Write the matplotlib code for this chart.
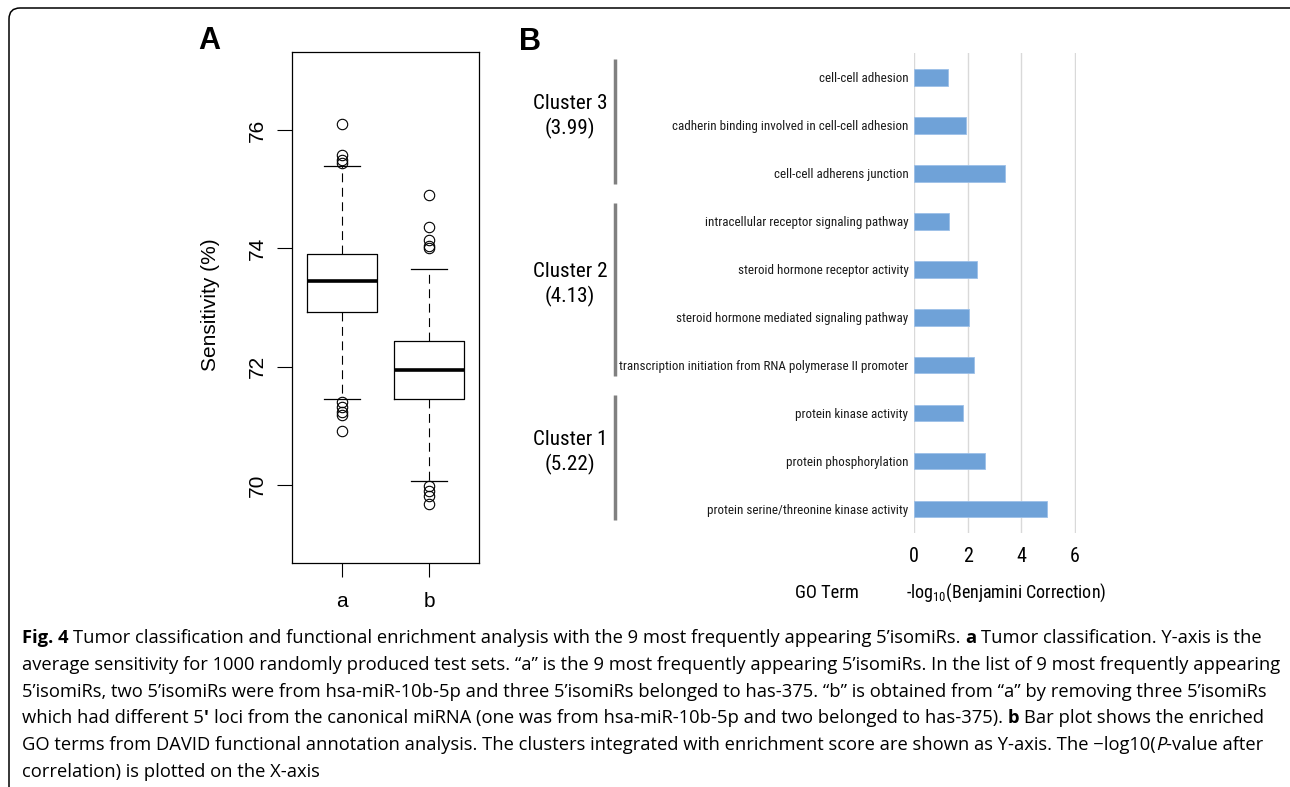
import numpy as np
import matplotlib
matplotlib.use("Agg")
import matplotlib.pyplot as plt
import matplotlib.transforms as mtransforms
from matplotlib import font_manager
from matplotlib.font_manager import FontProperties
from matplotlib.patches import FancyBboxPatch

# data #

groups = ["a", "b"]
q1 = [72.93, 71.45]
med = [73.44, 71.95]
q3 = [73.90, 72.43]
whislo = [71.45, 70.06]
whishi = [75.39, 73.65]
fliers = [
    [76.10, 75.58, 75.50, 75.45, 71.41, 71.32, 71.24, 71.18, 70.92],
    [74.90, 74.36, 74.14, 74.04, 74.00, 69.98, 69.89, 69.82, 69.67],
]

terms = [
    "cell-cell adhesion",
    "cadherin binding involved in cell-cell adhesion",
    "cell-cell adherens junction",
    "intracellular receptor signaling pathway",
    "steroid hormone receptor activity",
    "steroid hormone mediated signaling pathway",
    "transcription initiation from RNA polymerase II promoter",
    "protein kinase activity",
    "protein phosphorylation",
    "protein serine/threonine kinase activity",
]
neg_log_p = [1.25, 1.94, 3.39, 1.28, 2.33, 2.06, 2.22, 1.81, 2.64, 4.96]

cluster_names = ["Cluster 3", "Cluster 2", "Cluster 1"]
cluster_scores = ["3.99", "4.13", "5.22"]
cluster_spans = [(0, 2), (3, 6), (7, 9)]

caption = [
    [("Fig. 4", "bold"), ("Tumor classification and functional enrichment analysis with the 9 most frequently appearing 5\u2019isomiRs.", "normal"),
     ("a", "bold"), ("Tumor classification. Y-axis is the", "normal")],
    [("average sensitivity for 1000 randomly produced test sets. \u201ca\u201d is the 9 most frequently appearing 5\u2019isomiRs. In the list of 9 most frequently appearing", "normal")],
    [("5\u2019isomiRs, two 5\u2019isomiRs were from hsa-miR-10b-5p and three 5\u2019isomiRs belonged to has-375. \u201cb\u201d is obtained from \u201ca\u201d by removing three 5\u2019isomiRs", "normal")],
    [("which had different 5", "normal", 0), ("\u2032", "bold"), ("loci from the canonical miRNA (one was from hsa-miR-10b-5p and two belonged to has-375).", "normal"),
     ("b", "bold"), ("Bar plot shows the enriched", "normal")],
    [("GO terms from DAVID functional annotation analysis. The clusters integrated with enrichment score are shown as Y-axis. The \u2212log10(", "normal", 0),
     ("P", "italic", 0), ("-value after", "normal")],
    [("correlation) is plotted on the X-axis", "normal")],
]

# fonts #

W, H = 1290, 787
fig = plt.figure(figsize=(W / 100, H / 100), dpi=100)
px = mtransforms.IdentityTransform()
renderer = fig.canvas.get_renderer()


def measure(s, **kw):
    t = fig.text(0, 0, s, **kw)
    w = t.get_window_extent(renderer).width
    t.remove()
    return w


# pick the narrowest installed sans face for the condensed-looking panel B text
families = ("Liberation", "DejaVu Sans", "Noto Sans", "Roboto", "Open Sans", "Lato", "Inter")
best = None
for f in font_manager.fontManager.ttflist:
    if not f.name.startswith(families) or "CJK" in f.name or "Mono" in f.name:
        continue
    if f.style != "normal" or f.weight not in (400, "normal", "regular", "book"):
        continue
    try:
        w = measure("transcription initiation", fontproperties=FontProperties(fname=f.fname, size=10))
    except Exception:
        continue
    if best is None or w < best[0]:
        best = (w, f)
narrow_file = best[1] if best else None
if narrow_file is not None:
    narrow_name = narrow_file.name
    nprop = lambda size: FontProperties(fname=narrow_file.fname, size=size)
else:
    narrow_name = "Liberation Sans"
    nprop = lambda size: FontProperties(family="Liberation Sans", size=size)

names = {f.name for f in font_manager.fontManager.ttflist}
capfont = "Open Sans" if "Open Sans" in names else "DejaVu Sans"
plt.rcParams["font.family"] = ["Liberation Sans", "DejaVu Sans"]
plt.rcParams["mathtext.fontset"] = "custom"
plt.rcParams["mathtext.rm"] = narrow_name
plt.rcParams["mathtext.it"] = narrow_name + ":italic"


def fit(s, target, cap, size0=12.0):
    return min(cap, size0 * target / measure(s, fontproperties=nprop(size0)))


# outer rounded frame #

frame = FancyBboxPatch((9, -20), 1300, H - 8 + 20, boxstyle="round,pad=0,rounding_size=11",
                       transform=px, fill=False, lw=1.1, ec="black")
fig.add_artist(frame)

# Panel A: boxplot #

axA = fig.add_axes([291.7 / W, 1 - 563 / H, (479 - 291.7) / W, (563 - 52) / H])
stats = []
for i, g in enumerate(groups):
    stats.append(dict(label=g, q1=q1[i], med=med[i], q3=q3[i],
                      whislo=whislo[i], whishi=whishi[i], fliers=fliers[i]))
axA.bxp(stats, positions=[1, 2], widths=0.8, capwidths=0.41,
        boxprops=dict(lw=0.9, color="black"),
        medianprops=dict(lw=2.6, color="black", solid_capstyle="butt"),
        whiskerprops=dict(lw=0.8, color="black", ls=(0, (8, 5))),
        capprops=dict(lw=0.9, color="black"),
        flierprops=dict(marker="o", mfc="none", mec="black", ms=7.5, mew=0.8))
axA.set_xlim(0.42, 2.57)
axA.set_ylim(68.68, 77.32)
axA.set_yticks([70, 72, 74, 76])
axA.set_xticks([1, 2])
axA.set_xticklabels(groups)
axA.tick_params(axis="y", length=10.8, width=0.8, pad=7, labelsize=15, labelrotation=90)
axA.tick_params(axis="x", length=10, width=0.8, pad=11, labelsize=15)
for lab in axA.get_yticklabels():
    lab.set_va("center")
for s in axA.spines.values():
    s.set_linewidth(0.9)
fig.text(211 / W, 1 - 305 / H, "Sensitivity (%)", rotation=90, ha="center", va="center", fontsize=15)
fig.text(209 / W, 1 - 41 / H, "A", ha="center", va="center", fontsize=22, fontweight="bold")

# Panel B: bar chart #

label_size = fit(terms[6], 288, 11.0)
cluster_size = fit("Cluster 3", 74, 16.5)
go_size = fit("GO Term", 64, 15.0)
xlab = r"-log$_{10}$(Benjamini Correction)"
xlab_size = fit(xlab, 200, 15.0)

axB = fig.add_axes([914.3 / W, 1 - 533 / H, 161.7 / W, (533 - 53.3) / H])
y = np.arange(len(terms))
axB.barh(y, neg_log_p, height=0.35, color="#6FA2D8", edgecolor="#9CC0E8", lw=0.6, zorder=3)
axB.set_ylim(len(terms) - 0.5, -0.5)
axB.set_xlim(0, 6.05)
axB.set_xticks([0, 2, 4, 6])
axB.set_yticks(y)
axB.set_yticklabels(terms, fontproperties=nprop(label_size), color="#1a1a1a")
axB.set_xticklabels(["0", "2", "4", "6"], fontproperties=nprop(14.5))
axB.tick_params(axis="y", length=0, pad=4.3)
axB.tick_params(axis="x", length=0, pad=10)
axB.grid(axis="x", color="#D9D9D9", lw=1.0, zorder=0)
axB.grid(axis="y", visible=False)
for s in axB.spines.values():
    s.set_visible(False)

blend = mtransforms.blended_transform_factory(axB.transAxes, axB.transData)
for name, score, (a, b) in zip(cluster_names, cluster_scores, cluster_spans):
    top, bot = a - 0.38, b + 0.22
    axB.plot([-1.851, -1.851], [top, bot], transform=blend, color="#808080", lw=2.5,
             solid_capstyle="butt", clip_on=False)
    axB.text(-2.13, (top + bot) / 2 - 0.1, f"{name}\n({score})", transform=blend,
             ha="center", va="center", fontproperties=nprop(cluster_size), linespacing=1.3)

fig.text(827 / W, 1 - 593 / H, "GO Term", ha="center", va="center", fontproperties=nprop(go_size))
fig.text(906 / W, 1 - 593 / H, xlab, ha="left", va="center", fontproperties=nprop(xlab_size))
fig.text(530 / W, 1 - 42 / H, "B", ha="center", va="center", fontsize=22, fontweight="bold")

# caption #


def draw_line(pieces, x0, base, size):
    space = measure("x x", fontsize=size, fontfamily=capfont) - measure("xx", fontsize=size, fontfamily=capfont)
    x = x0
    texts = []
    for p in pieces:
        s, kind = p[0], p[1]
        gap = p[2] if len(p) > 2 else 1
        kw = dict(fontsize=size, fontfamily=capfont)
        if kind == "bold":
            kw["fontweight"] = "bold"
        if kind == "italic":
            kw["fontstyle"] = "italic"
        t = fig.text(x, H - base, s, transform=px, ha="left", va="baseline", **kw)
        texts.append(t)
        x += t.get_window_extent(renderer).width + gap * space
    return texts, x


size = 13.4
trial, xend = draw_line(caption[0], 22, 643, size)
width = xend - 22
for t in trial:
    t.remove()
size = size * 1252 / width

bases = [643, 670, 697, 723, 750, 777]
for line, b in zip(caption, bases):
    draw_line(line, 22, b, size)

fig.savefig("out.png", dpi=100)
